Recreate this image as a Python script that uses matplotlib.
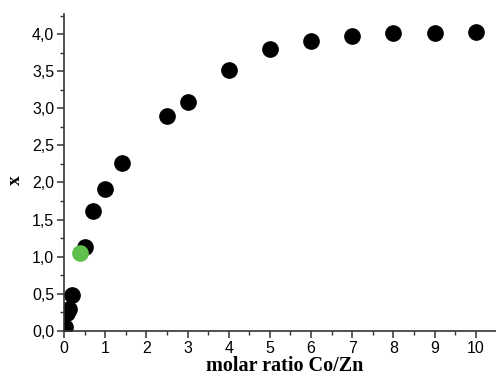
import matplotlib
matplotlib.use('Agg')
import matplotlib.pyplot as plt
from matplotlib.ticker import MultipleLocator, FuncFormatter

# molar ratio Co/Zn vs x
ratio = [0.03, 0.08, 0.12, 0.2, 0.5, 0.7, 1.0, 1.4, 2.5, 3.0, 4.0, 5.0, 6.0, 7.0, 8.0, 9.0, 10.0]
x_val = [0.05, 0.24, 0.30, 0.49, 1.13, 1.61, 1.91, 2.26, 2.89, 3.09, 3.51, 3.80, 3.90, 3.98, 4.01, 4.02, 4.03]

# highlighted sample
ratio_hi = [0.4]
x_hi = [1.05]

fig = plt.figure(figsize=(4.96, 3.79), dpi=100)
ax = fig.add_axes([0.129, 0.127, 0.871, 0.836])

ax.plot(ratio, x_val, 'o', color='black', markersize=11)
ax.plot(ratio_hi, x_hi, 'o', color='#5fc04c', markersize=11)

ax.set_xlim(0, 10.49)
ax.set_ylim(0, 4.27)

for side in ['top', 'right']:
    ax.spines[side].set_visible(False)
for side in ['left', 'bottom']:
    ax.spines[side].set_linewidth(1.2)
    ax.spines[side].set_color('#333333')

ax.xaxis.set_major_locator(MultipleLocator(1))
ax.xaxis.set_minor_locator(MultipleLocator(0.5))
ax.yaxis.set_major_locator(MultipleLocator(0.5))
ax.yaxis.set_minor_locator(MultipleLocator(0.25))
ax.yaxis.set_major_formatter(FuncFormatter(lambda v, p: f'{v:.1f}'.replace('.', ',')))

ax.tick_params(which='major', direction='out', length=5, width=1.1, color='#333333',
               labelsize=11.5, pad=2)
ax.tick_params(which='minor', direction='out', length=3, width=1.0, color='#333333')
for lab in ax.get_xticklabels() + ax.get_yticklabels():
    lab.set_fontfamily('Liberation Sans')

# axis titles placed in figure coordinates
fig.text(285 / 496, 1 - 366 / 379, 'molar ratio Co/Zn', fontfamily='Liberation Serif',
         fontweight='bold', fontsize=14.5, ha='center', va='center')
fig.text(15 / 496, 1 - 180 / 379, 'x', fontfamily='Liberation Serif', fontweight='bold',
         fontsize=14, rotation=90, ha='center', va='center')

fig.savefig('out.png', dpi=100, facecolor='white')
